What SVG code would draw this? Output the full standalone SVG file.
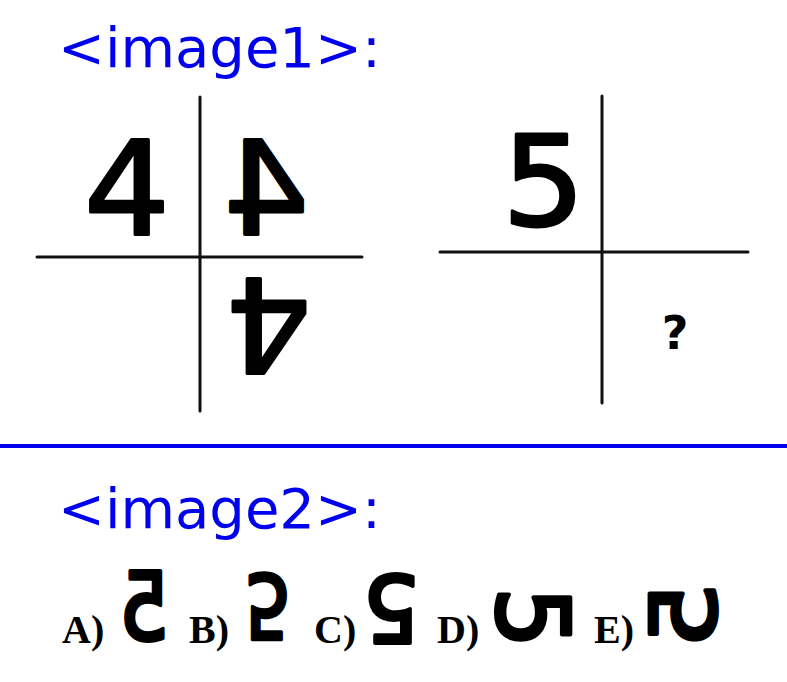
<svg xmlns="http://www.w3.org/2000/svg" width="787" height="682" viewBox="0 0 787 682">
<style>
.hdr{font-family:"DejaVu Sans",sans-serif;font-size:56px;fill:#0000ee}
.ax{stroke:#111;stroke-width:3;stroke-linecap:round;fill:none}
.dg{font-family:"DejaVu Sans",sans-serif;font-size:130px;fill:#000;stroke:#000;stroke-width:3;stroke-linejoin:round;text-anchor:middle}
.op{font-family:"DejaVu Sans",sans-serif;font-size:96px;fill:#000;stroke:#000;stroke-width:4;stroke-linejoin:round;text-anchor:middle}
.lb{font-family:"Liberation Serif","Times New Roman",serif;font-weight:bold;font-size:40px;fill:#000}
.q{font-family:"DejaVu Sans",sans-serif;font-weight:bold;font-size:46px;fill:#000;text-anchor:middle}
</style>
<rect width="787" height="682" fill="#fff"/>
<text class="hdr" x="58" y="67">&lt;image1&gt;:</text>
<g id="cross1">
<line class="ax" x1="200" y1="97" x2="200" y2="411"/>
<line class="ax" x1="37" y1="257" x2="362" y2="257"/>
<g transform="translate(127,187) scale(1.04,1)"><text class="dg" x="0" y="47">4</text></g>
<g transform="translate(266,187) scale(-1.04,1)"><text class="dg" x="0" y="47">4</text></g>
<g transform="translate(268.5,326.5) rotate(180) scale(1.04,1)"><text class="dg" x="0" y="47">4</text></g>
</g>
<g id="cross2">
<line class="ax" x1="602" y1="96" x2="602" y2="403"/>
<line class="ax" x1="440" y1="252" x2="748" y2="252"/>
<g transform="translate(543.5,178.5) scale(1.04,1)"><text class="dg" x="0" y="46" style="font-size:125px">5</text></g>
<text class="q" x="675" y="349">?</text>
</g>
<line x1="0" y1="446" x2="787" y2="446" stroke="#0000ee" stroke-width="4"/>
<text class="hdr" x="58" y="528">&lt;image2&gt;:</text>
<g id="optA">
<text class="lb" x="62" y="643">A)</text>
<g transform="translate(144,605) scale(-0.82,0.99)"><text class="op" x="0" y="35">5</text></g>
</g>
<g id="optB">
<text class="lb" x="189" y="643">B)</text>
<g transform="translate(268,607) scale(0.78,-0.93)"><text class="op" x="0" y="35">5</text></g>
</g>
<g id="optC">
<text class="lb" x="314" y="643">C)</text>
<g transform="translate(391,609) rotate(180) scale(0.94,0.96)"><text class="op" x="0" y="35">5</text></g>
</g>
<g id="optD">
<text class="lb" x="437" y="643">D)</text>
<g transform="translate(533.5,617.5) rotate(90) scale(1.0,1.03)"><text class="op" x="0" y="35">5</text></g>
</g>
<g id="optE">
<text class="lb" x="594" y="643">E)</text>
<g transform="translate(682.5,615.5) scale(-1,1) rotate(90) scale(1.08,0.95)"><text class="op" x="0" y="35">5</text></g>
</g>
</svg>
